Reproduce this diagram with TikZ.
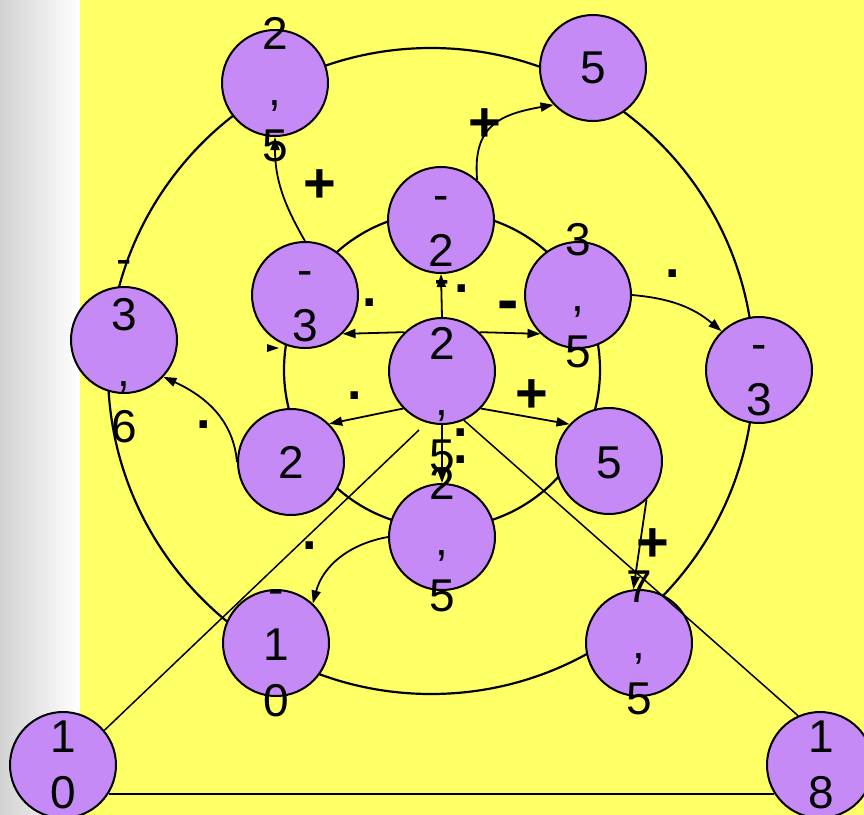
\documentclass[tikz,border=0pt]{standalone}
\usepackage{fontspec}
\setmainfont{Liberation Sans}
\usetikzlibrary{arrows.meta}
\definecolor{bubble}{RGB}{198,138,246}
\definecolor{board}{RGB}{255,255,102}

\begin{document}
\begin{tikzpicture}[x=0.5pt, y=0.5pt,
  disc/.style={circle, draw, line width=1pt, fill=bubble, minimum size=53pt, inner sep=0pt},
  txt/.style={align=center, inner sep=0pt, font=\fontsize{23}{28}\selectfont},
  sgn/.style={inner sep=0pt, font=\bfseries\fontsize{28}{28}\selectfont},
  dotmark/.style={inner sep=0pt, font=\bfseries\fontsize{26}{26}\selectfont},
  arr/.style={-{Triangle[length=6.5pt,width=4.5pt]}, line width=0.9pt}]
\useasboundingbox (0,0) rectangle (864,-815);
\clip (0,0) rectangle (864,-815);
\shade[left color=gray!35, right color=white] (0,0) rectangle (80,-815);
\fill[board] (80,0) rectangle (864,-815);
% rings
\coordinate (outer) at (431,-371);
\coordinate (inner) at (442,-370);
\draw[line width=1.1pt] (outer) circle[radius=323];
\draw[line width=1.1pt] (inner) circle[radius=158];
% discs
\node[disc] (A) at (275,-83) {};
\node[disc] (B) at (593,-68) {};
\node[disc] (C) at (441,-220) {};
\node[disc] (D) at (305,-295) {};
\node[disc] (E) at (578,-295) {};
\node[disc] (F) at (442,-371) {};
\node[disc] (G) at (291,-462) {};
\node[disc] (H) at (609,-461) {};
\node[disc] (I) at (442,-537) {};
\node[disc] (J) at (124,-340) {};
\node[disc] (K) at (759,-370) {};
\node[disc] (L) at (276,-643) {};
\node[disc] (M) at (639,-643) {};
\node[disc] (N) at (63,-765) {};
\node[disc] (O) at (820,-765) {};
% straight lines
\coordinate (nf) at (419,-430);
\draw[line width=0.75pt] (N.40) -- (nf);
\draw[line width=0.75pt] (F.-66) -- (O.114);
\draw[line width=0.9pt] (N.-32) -- (O.212);
% arrows from the hub
\draw[arr] (F.90) -- (C.-90);
\draw[arr] (F.134) -- (D.-46);
\draw[arr] (F.46) -- (E.-134);
\draw[arr] (F.224) -- (G.45);
\draw[arr] (F.-44) -- (H.137);
\draw[arr] (F.-90) -- (I.90);
% arrows to the outer ring
\draw[arr] (D.90) to[out=120, in=-90] (A.-90);
\draw[arr] (C.48) to[out=95, in=190, looseness=1.3] (B.223);
\draw[arr] (E.0) to[out=-5, in=140] (K.134);
\draw[arr] (G.180) to[out=95, in=-25] (J.-43);
\draw[arr] (I.180) to[out=190, in=75] (L.47);
\draw[arr] (H.-46) -- (M.96);
\fill (267,-344) -- (279,-348) -- (267,-352) -- cycle;
% disc texts
\node[txt] (tA) at (275,-90) {2\\,\\5};
\node[txt] (tB) at (593,-68) {5};
\node[txt] (tC) at (441,-222) {\vphantom{0}-\\2};
\node[txt] (tD) at (305,-298) {\vphantom{0}-\\3};
\node[txt] (tE) at (578,-296) {3\\,\\5};
\node[txt] (tF) at (442,-400) {2\\,\\5};
\node[txt] (tG) at (291,-462) {2};
\node[txt] (tH) at (609,-463) {5};
\node[txt] (tI) at (442,-540) {2\\,\\5};
\node[txt] (tJ) at (124,-343) {\vphantom{0}-\\3\\,\\6};
\node[txt] (tK) at (759,-372) {\vphantom{0}-\\3};
\node[txt] (tL) at (276,-645) {\vphantom{0}-\\1\\0};
\node[txt] (tM) at (639,-643) {7\\,\\5};
\node[txt] (tN) at (63,-765) {1\\0};
\node[txt] (tO) at (821,-765) {1\\8};
% signs
\node[sgn] (p1) at (320,-186) {+};
\node[sgn] (p2) at (485,-125) {+};
\node[sgn] (p3) at (532,-396) {+};
\node[sgn] (p4) at (653,-545) {+};
\node[sgn, font=\bfseries\fontsize{32}{32}\selectfont] (m1) at (508,-311) {-};
\node[txt] (m2) at (442,-287) {-};
\node[dotmark] (d1) at (370,-303) {.};
\node[dotmark] (d2) at (462,-289) {.};
\node[dotmark] (d3) at (673,-274) {.};
\node[dotmark] (d4) at (355,-396) {.};
\node[dotmark] (d5) at (461,-433) {.};
\node[dotmark] (d6) at (461,-460) {.};
\node[dotmark] (d7) at (204,-425) {.};
\node[dotmark] (d8) at (310,-546) {.};
\end{tikzpicture}
\end{document}
